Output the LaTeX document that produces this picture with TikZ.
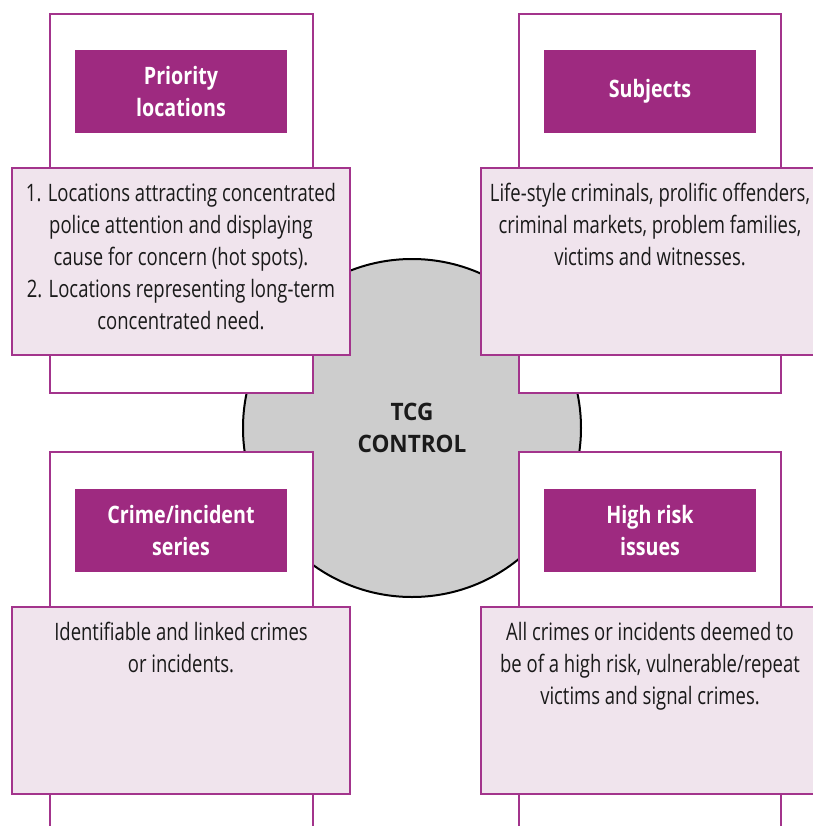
\documentclass[tikz,border=0pt]{standalone}
\usepackage{fontspec}
\setmainfont{Open Sans}[FakeStretch=0.77]
\newfontfamily\headfont{Open Sans}[FakeStretch=0.82]
\newfontfamily\hubfont{Open Sans}[FakeStretch=0.94]
\usetikzlibrary{fit}
\definecolor{hdr}{RGB}{158,42,128}
\definecolor{edge}{RGB}{163,52,140}
\definecolor{notefill}{RGB}{240,228,237}
\definecolor{hubfill}{RGB}{205,205,205}
\definecolor{ink}{RGB}{26,26,26}
\newdimen\pxu \pxu=0.75pt
\begin{document}
\begin{tikzpicture}[x=0.75pt,y=-0.75pt,
  frame/.style={draw=edge, line width=1.5pt, fill=white, inner sep=0pt},
  head/.style={fill=hdr, inner sep=0pt},
  headtext/.style={text=white, inner sep=0pt, align=center, anchor=center,
    font=\headfont\bfseries\fontsize{18}{23.5}\selectfont},
  note/.style={draw=edge, line width=1.5pt, fill=notefill, inner sep=0pt},
  notetext/.style={anchor=north, align=center, inner sep=0pt, text=ink,
    font=\fontsize{18}{24}\selectfont},
  hub/.style={circle, draw=black, line width=1.5pt, fill=hubfill, inner sep=0pt,
    minimum size=338\pxu},
  hubtext/.style={text=ink, inner sep=0pt, align=center,
    font=\hubfont\bfseries\fontsize{18}{23.5}\selectfont}]
\useasboundingbox (0,0) rectangle (813,826);
\clip (0,0) rectangle (813,826);

% central control circle
\node[hub] (hub) at (412,428) {};

% tall white frames
\node[frame, fit={(50,14) (313,393)}] (pframe) {};
\node[frame, fit={(519,14) (781,393)}] (sframe) {};
\node[frame, fit={(50,452) (313,840)}] (cframe) {};
\node[frame, fit={(519,452) (781,840)}] (rframe) {};

\node[hubtext] (hublabel) at (hub.center) {TCG\\CONTROL};

% purple headers
\node[head, fit={(75,50) (287,133)}] (phead) {};
\node[head, fit={(544,50) (756,133)}] (shead) {};
\node[head, fit={(75,489) (287,572)}] (chead) {};
\node[head, fit={(544,489) (756,572)}] (rhead) {};
\node[headtext] (plabel) at (phead.center) {Priority\\locations};
\node[headtext] (slabel) at (shead.center) {Subjects};
\node[headtext] (clabel) at (chead.center) {Crime/incident\\series};
\node[headtext] (rlabel) at (rhead.center) {High risk\\issues};

% pink description boxes
\node[note, fit={(12,168) (350,355)}] (pnote) {};
\node[note, fit={(481,168) (819,355)}] (snote) {};
\node[note, fit={(12,607) (350,794)}] (cnote) {};
\node[note, fit={(481,607) (819,794)}] (rnote) {};

\node[notetext] (ptext) at ([yshift=-16\pxu]pnote.north)
  {1. Locations attracting concentrated\\police attention and displaying\\cause for concern (hot spots).\\2. Locations representing long-term\\concentrated need.};
\node[notetext] (stext) at ([yshift=-16\pxu]snote.north)
  {Life-style criminals, prolific offenders,\\criminal markets, problem families,\\victims and witnesses.};
\node[notetext] (ctext) at ([yshift=-16\pxu]cnote.north)
  {Identifiable and linked crimes\\or incidents.};
\node[notetext] (rtext) at ([yshift=-16\pxu]rnote.north)
  {All crimes or incidents deemed to\\be of a high risk, vulnerable/repeat\\victims and signal crimes.};
\end{tikzpicture}
\end{document}
